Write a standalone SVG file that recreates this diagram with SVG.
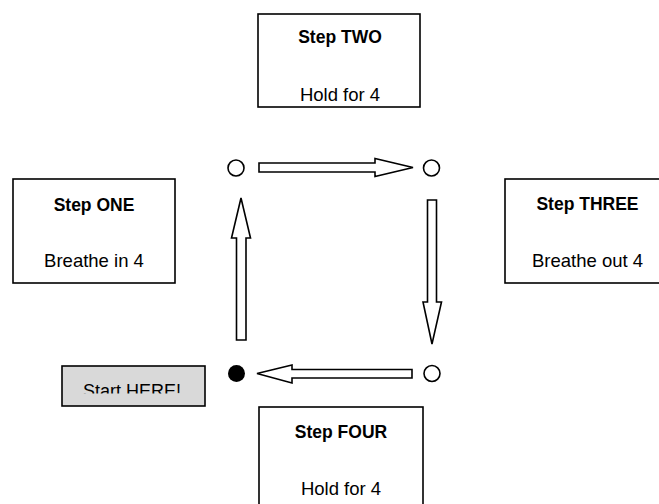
<svg xmlns="http://www.w3.org/2000/svg" width="659" height="504" viewBox="0 0 659 504">
<style>
.box{fill:#fff;stroke:#000;stroke-width:1.6}
.t{font-family:"Liberation Sans",Arial,sans-serif;font-size:18.5px;text-anchor:middle;fill:#000}
.b{font-family:"Liberation Sans",Arial,sans-serif;font-size:17.5px;font-weight:bold;text-anchor:middle;fill:#000}
.arr{fill:#fff;stroke:#000;stroke-width:1.6;stroke-linejoin:miter}
.dot{fill:#fff;stroke:#000;stroke-width:1.6}
</style>
<defs>
<clipPath id="startclip"><rect x="63" y="367" width="141" height="26.5"/></clipPath>
</defs>
<rect width="659" height="504" fill="#fff"/>
<g id="step-two">
<rect class="box" x="258" y="14" width="162" height="93"/>
<text class="b" x="340" y="43">Step TWO</text>
<text class="t" x="340" y="101">Hold for 4</text>
</g>
<g id="step-one">
<rect class="box" x="13" y="179" width="162" height="104"/>
<text class="b" x="94" y="211">Step ONE</text>
<text class="t" x="94" y="267">Breathe in 4</text>
</g>
<g id="step-three">
<rect class="box" x="505" y="179" width="170" height="104"/>
<text class="b" x="587.5" y="210">Step THREE</text>
<text class="t" x="587.5" y="267">Breathe out 4</text>
</g>
<g id="step-four">
<rect class="box" x="259" y="407" width="164" height="110"/>
<text class="b" x="341" y="438">Step FOUR</text>
<text class="t" x="341" y="495">Hold for 4</text>
</g>
<g id="start-here">
<rect x="62" y="366" width="143" height="40" fill="#d9d9d9" stroke="#000" stroke-width="1.6"/>
<text class="t" x="132" y="396.5" clip-path="url(#startclip)" style="font-size:18px">Start HERE!</text>
</g>
<g id="points">
<circle class="dot" cx="236" cy="168" r="8"/>
<circle class="dot" cx="431.5" cy="168" r="8"/>
<circle cx="236.5" cy="373.5" r="8.5" fill="#000"/>
<circle class="dot" cx="432" cy="373.5" r="8"/>
</g>
<g id="connectors">
<polygon class="arr" points="259,163 375,163 375,158.5 413,167.5 375,176.5 375,172 259,172"/>
<polygon class="arr" points="427.5,200 436.5,200 436.5,302 441.5,302 432,344 423,302 427.5,302"/>
<polygon class="arr" points="257,373.5 292,365 292,369.5 412,369.5 412,378 292,378 292,383"/>
<polygon class="arr" points="241,198 250.5,238 246,238 246,340 236.5,340 236.5,238 231.5,238"/>
</g>
</svg>
